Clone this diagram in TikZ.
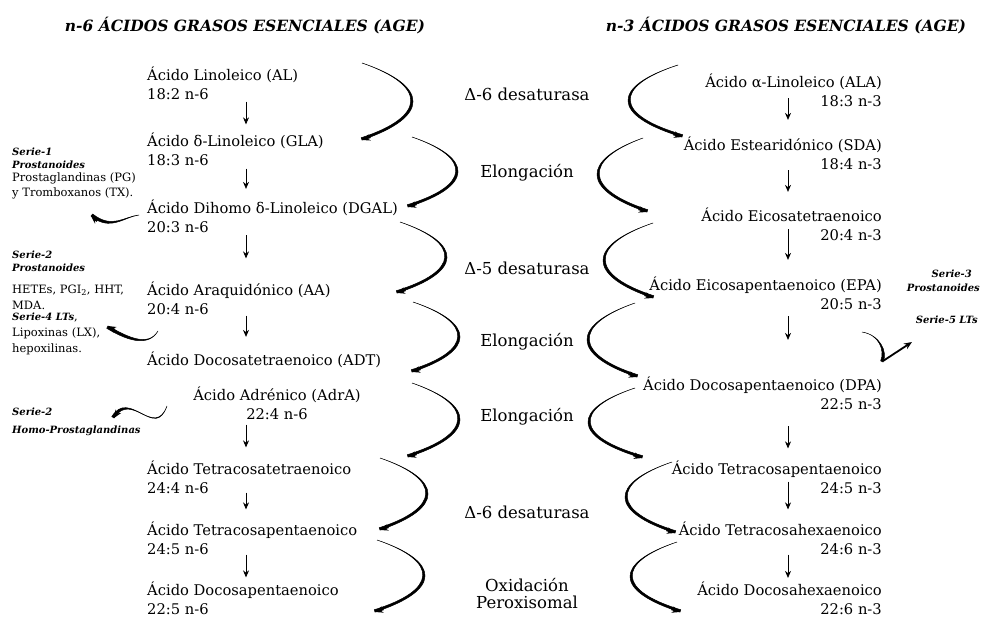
\documentclass[tikz,border=0pt]{standalone}
\usepackage{fontspec}
\setmainfont{DejaVu Serif}
\usetikzlibrary{arrows.meta,calc}
% tapered C-shaped arrow: x0 y0 xextreme x3 y3 side(+1 = bulge right, -1 = bulge left)
\newcommand{\crv}[6]{%
 \pgfmathsetmacro{\cxa}{(8*#3-#1-#4)/6}%
 \pgfmathsetmacro{\cya}{#2+0.3*(#5-#2)}%
 \pgfmathsetmacro{\cyb}{#5-0.3*(#5-#2)}%
 \pgfmathsetmacro{\tdx}{#4-\cxa}\pgfmathsetmacro{\tdy}{#5-\cyb}%
 \pgfmathsetmacro{\tl}{sqrt(\tdx*\tdx+\tdy*\tdy)}%
 \pgfmathsetmacro{\tox}{-1*\tdy/\tl*2.4*(#6)}\pgfmathsetmacro{\toy}{\tdx/\tl*2.4*(#6)}%
 \filldraw[line width=0.5pt] (#1,#2) .. controls (\cxa,\cya) and (\cxa,\cyb) .. (#4,#5)
   -- ({#4+\tox},{#5+\toy}) .. controls ({\cxa-(#6)*4.5},\cyb) and ({\cxa-(#6)*1.2},\cya) .. (#1,#2) -- cycle;
 \draw[ctip] ($(#4,#5)!9pt!(\cxa,\cyb)$) -- (#4,#5);}
% general tapered bezier: P0 P1 P2 P3, side
\newcommand{\taper}[9]{%
 \pgfmathsetmacro{\tdx}{#7-#5}\pgfmathsetmacro{\tdy}{#8-#6}%
 \pgfmathsetmacro{\tl}{sqrt(\tdx*\tdx+\tdy*\tdy)}%
 \pgfmathsetmacro{\tox}{-1*\tdy/\tl*2.6*(#9)}\pgfmathsetmacro{\toy}{\tdx/\tl*2.6*(#9)}%
 \filldraw[line width=0.5pt] (#1,#2) .. controls (#3,#4) and (#5,#6) .. (#7,#8)
   -- ({#7+\tox},{#8+\toy}) .. controls ({#5+1.3*\tox},{#6+1.3*\toy}) and ({#3+0.3*\tox},{#4+0.3*\toy}) .. (#1,#2) -- cycle;}
\begin{document}
\begin{tikzpicture}[x=1pt,y=-1pt,
  acidL/.style={font=\fontsize{14.7}{19}\selectfont, inner sep=0pt, align=left, anchor=west},
  acidR/.style={font=\fontsize{14.7}{19}\selectfont, inner sep=0pt, align=right, anchor=east},
  acidC/.style={font=\fontsize{14.7}{19}\selectfont, inner sep=0pt, align=center},
  enz/.style={font=\fontsize{16.5}{17}\selectfont, inner sep=0pt, align=center},
  ttl/.style={font=\fontsize{15.5}{18}\selectfont\bfseries\itshape, inner sep=0pt},
  note/.style={font=\fontsize{10}{13}\selectfont, inner sep=0pt, align=left, anchor=west},
  noteR/.style={font=\fontsize{10}{14}\selectfont\bfseries\itshape, inner sep=0pt, align=right, anchor=east},
  varrow/.style={-{Stealth[length=7pt,width=6pt]}, line width=0.8pt},
  ctip/.style={-{Stealth[length=8pt,width=6.5pt]}, line width=1.8pt}]
\useasboundingbox (0,0) rectangle (981,617);
\fill[white] (0,0) rectangle (981,617);

% titles
\node[ttl] (t6) at (245,26) {n-6 ÁCIDOS GRASOS ESENCIALES (AGE)};
\node[ttl] (t3) at (786,26) {n-3 ÁCIDOS GRASOS ESENCIALES (AGE)};

% column x references
\coordinate (cl) at (246,0);
\coordinate (cr) at (788,0);

% n-6 column
\node[acidL] (AL)   at (147,83)  {Ácido Linoleico (AL)\\18:2 n-6};
\node[acidL] (GLA)  at (147,149) {Ácido δ-Linoleico (GLA)\\18:3 n-6};
\node[acidL] (DGAL) at (147,216.5) {Ácido Dihomo δ-Linoleico (DGAL)\\20:3 n-6};
\node[acidL] (AA)   at (147,298) {Ácido Araquidónico (AA)\\20:4 n-6};
\node[acidL] (ADT)  at (147,360) {Ácido Docosatetraenoico (ADT)};
\node[acidC] (AdrA) at (277,403) {Ácido Adrénico (AdrA)\\22:4 n-6};
\node[acidL] (TTA)  at (147,477) {Ácido Tetracosatetraenoico\\24:4 n-6};
\node[acidL] (TPAl) at (147,538) {Ácido Tetracosapentaenoico\\24:5 n-6};
\node[acidL] (DPAl) at (147,598) {Ácido Docosapentaenoico\\22:5 n-6};

\draw[varrow, shorten <=2pt, shorten >=8pt]  (AL.south -| cl) -- (GLA.north -| cl);
\draw[varrow, shorten <=3pt, shorten >=11pt] (GLA.south -| cl) -- (DGAL.north -| cl);
\draw[varrow, shorten <=2pt, shorten >=23pt] (DGAL.south -| cl) -- (AA.north -| cl);
\draw[varrow, shorten <=1pt, shorten >=15pt] (AA.south -| cl) -- (ADT.north -| cl);
\draw[varrow, shorten <=5pt, shorten >=13pt] (AdrA.south -| cl) -- (TTA.north -| cl);
\draw[varrow, shorten <=-1pt, shorten >=12pt] (TTA.south -| cl) -- (TPAl.north -| cl);
\draw[varrow, shorten <=0pt, shorten >=4pt]  (TPAl.south -| cl) -- (DPAl.north -| cl);

% n-3 column
\node[acidR] (ALA) at (882,90.5)  {Ácido α-Linoleico (ALA)\\18:3 n-3};
\node[acidR] (SDA) at (882,153.5) {Ácido Estearidónico (SDA)\\18:4 n-3};
\node[acidR] (ETA) at (882,224.5) {Ácido Eicosatetraenoico\\20:4 n-3};
\node[acidR] (EPA) at (882,293.5) {Ácido Eicosapentaenoico (EPA)\\20:5 n-3};
\node[acidR] (DPA) at (882,393.5) {Ácido Docosapentaenoico (DPA)\\22:5 n-3};
\node[acidR] (TPA) at (882,477)   {Ácido Tetracosapentaenoico\\24:5 n-3};
\node[acidR] (THA) at (882,538)   {Ácido Tetracosahexaenoico\\24:6 n-3};
\node[acidR] (DHA) at (882,598.5) {Ácido Docosahexaenoico\\22:6 n-3};

\draw[varrow, shorten <=-9pt, shorten >=17pt]  (ALA.south -| cr) -- (SDA.north -| cr);
\draw[varrow, shorten <=0pt, shorten >=16pt]   (SDA.south -| cr) -- (ETA.north -| cr);
\draw[varrow, shorten <=-12pt, shorten >=17pt] (ETA.south -| cr) -- (EPA.north -| cr);
\draw[varrow, shorten <=6pt, shorten >=37pt]   (EPA.south -| cr) -- (DPA.north -| cr);
\draw[varrow, shorten <=16pt, shorten >=12pt]  (DPA.south -| cr) -- (TPA.north -| cr);
\draw[varrow, shorten <=-12pt, shorten >=12pt] (TPA.south -| cr) -- (THA.north -| cr);
\draw[varrow, shorten <=0pt, shorten >=4pt]    (THA.south -| cr) -- (DHA.north -| cr);

% enzymes
\node[enz] (e1) at (527,94)  {Δ-6 desaturasa};
\node[enz] (e2) at (527,173) {Elongación};
\node[enz] (e3) at (527,268) {Δ-5 desaturasa};
\node[enz] (e4) at (527,342) {Elongación};
\node[enz] (e5) at (527,417) {Elongación};
\node[enz] (e6) at (527,512) {Δ-6 desaturasa};
\node[enz] (e7) at (527,594) {Oxidación\\Peroxisomal};

% curved arrows, n-6 side
\crv{362}{63}{413}{362}{140}{1}
\crv{412}{137}{458}{408}{207}{1}
\crv{400}{222}{447}{397}{293}{1}
\crv{413}{302}{460}{412}{372}{1}
\crv{412}{383}{460}{408}{457}{1}
\crv{380}{458}{428}{380}{530}{1}
\crv{377}{540}{425}{375}{612}{1}

% curved arrows, n-3 side
\crv{678}{65}{628}{682}{137}{-1}
\crv{643}{138}{597}{647}{212}{-1}
\crv{653}{223}{603}{653}{298}{-1}
\crv{635}{303}{587}{637}{377}{-1}
\crv{635}{388}{588}{642}{458}{-1}
\crv{672}{462}{625}{675}{533}{-1}
\crv{677}{542}{630}{680}{612}{-1}

% side notes, n-6
\node[note] (s1a) at (12,158.5) {\bfseries\itshape Serie-1\\\bfseries\itshape Prostanoides};
\node[note, font=\fontsize{11.5}{15}\selectfont] (s1b) at (12,185.5) {Prostaglandinas (PG)\\y Tromboxanos (TX).};
\node[note] (s2a) at (12,261.5) {\bfseries\itshape Serie-2\\\bfseries\itshape Prostanoides};
\node[note, font=\fontsize{11.5}{16}\selectfont] (s2b) at (12,297) {HETEs, PGI\textsubscript{2}, HHT,\\MDA.};
\node[note, font=\fontsize{11.5}{16}\selectfont] (s2c) at (12,334) {{\fontsize{10}{16}\selectfont\bfseries\itshape Serie-4 LTs},\\Lipoxinas (LX),\\hepoxilinas.};
\node[note, font=\fontsize{10}{18}\selectfont] (s3) at (12,422) {\bfseries\itshape Serie-2\\\bfseries\itshape Homo-Prostaglandinas};

% side notes, n-3
\node[noteR] (r1) at (980,281) {Serie-3\hspace*{8pt}\\Prostanoides};
\node[noteR] (r2) at (978,320) {Serie-5 LTs};

% squiggle arrows
\coordinate (q1) at (91,216);
\taper{139}{215}{124}{217}{110}{232}{91}{216}{1}
\draw[ctip] ($(q1)!8pt!(110,232)$) -- (q1);
\coordinate (q2) at (108,326);
\taper{158}{331}{148}{348}{126}{336}{108}{326}{-1}
\draw[ctip] ($(q2)!8pt!(126,336)$) -- (q2);
\coordinate (q3) at (114,418);
\taper{167}{406}{155}{440}{132}{390}{114}{418}{1}
\draw[ctip] ($(q3)!8pt!(132,390)$) -- (q3);
\coordinate (q4) at (912,342);
\taper{862}{332}{880}{335}{888}{352}{883}{362}{1}
\draw[ctip] (883,361) -- (q4);
\end{tikzpicture}
\end{document}
